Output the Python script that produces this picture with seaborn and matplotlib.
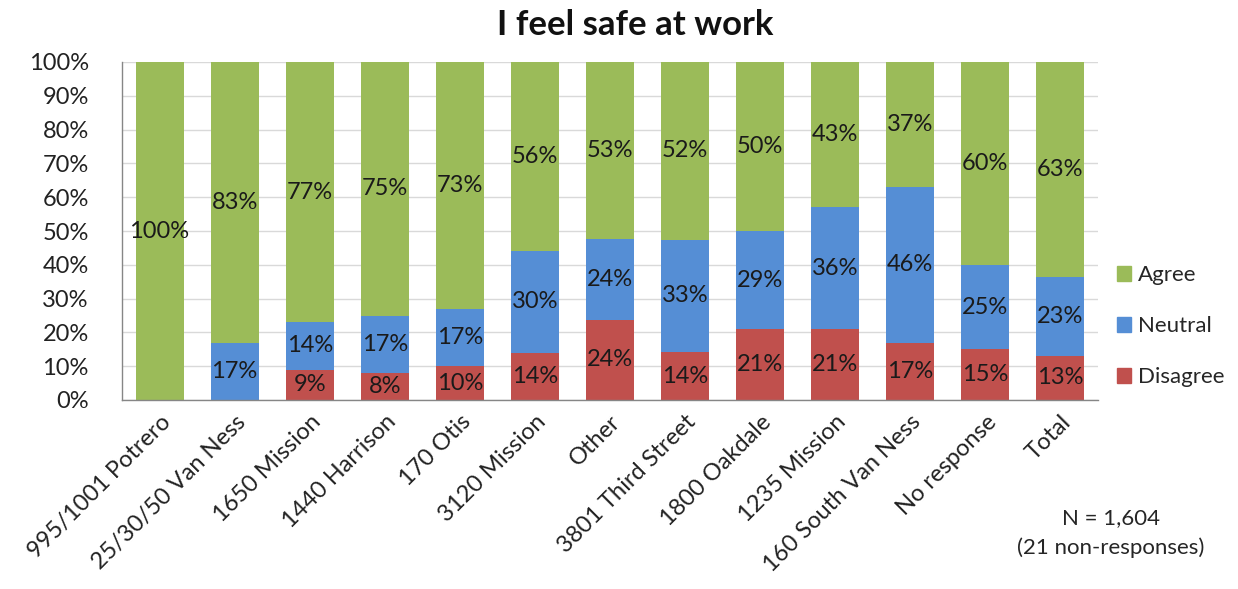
import numpy as np
import pandas as pd
import matplotlib
matplotlib.use("Agg")
import matplotlib.pyplot as plt
import seaborn as sns
from matplotlib.patches import Patch

categories = ["995/1001 Potrero", "25/30/50 Van Ness", "1650 Mission", "1440 Harrison",
              "170 Otis", "3120 Mission", "Other", "3801 Third Street", "1800 Oakdale",
              "1235 Mission", "160 South Van Ness", "No response", "Total"]
disagree = [0, 0, 9, 8, 10, 14, 24, 14, 21, 21, 17, 15, 13]
neutral = [0, 17, 14, 17, 17, 30, 24, 33, 29, 36, 46, 25, 23]
agree = [100, 83, 77, 75, 73, 56, 53, 52, 50, 43, 37, 60, 63]
yticks = [0, 10, 20, 30, 40, 50, 60, 70, 80, 90, 100]

colors = {"Disagree": "#C0504D", "Neutral": "#558ED5", "Agree": "#9BBB59"}

sns.set_theme(style="white")
plt.rcParams["font.family"] = ["Lato", "DejaVu Sans"]

df = pd.DataFrame({"cat": categories, "Disagree": disagree, "Neutral": neutral, "Agree": agree})
tot = df[["Disagree", "Neutral", "Agree"]].sum(axis=1)
for s in ["Disagree", "Neutral", "Agree"]:
    df[s + "_pct"] = df[s] / tot * 100

fig = plt.figure(figsize=(12.38, 5.89), dpi=100)
ax = fig.add_axes([122 / 1238, 1 - 400 / 589, (1098 - 122) / 1238, (400 - 62) / 589])

FS = 17
bottom = np.zeros(len(df))
for s in ["Disagree", "Neutral", "Agree"]:
    sns.barplot(data=df, x="cat", y=s + "_pct", color=colors[s], bottom=bottom,
                width=0.64, ax=ax, saturation=1, edgecolor="none", linewidth=0,
                zorder=3)
    cont = ax.containers[-1]
    labels = [f"{v}%" if v > 0 else "" for v in df[s]]
    ax.bar_label(cont, labels=labels, label_type="center", fontsize=FS, color="#1a1a1a")
    bottom = bottom + df[s + "_pct"].values

ax.set_ylim(0, 100)
ax.set_xlim(-0.5, len(categories) - 0.5)
ax.set_yticks(yticks)
ax.set_yticklabels([f"{t}%" for t in yticks], fontsize=FS, color="#222222")
ax.tick_params(axis="y", length=0, pad=24)
ax.tick_params(axis="x", length=0, pad=8)
ax.set_xticks(range(len(categories)))
ax.set_xticklabels(categories, rotation=45, ha="right", rotation_mode="anchor",
                   fontsize=FS, color="#222222")
ax.set_xlabel("")
ax.set_ylabel("")
ax.yaxis.grid(True, color="#D9D9D9", linewidth=1, zorder=0)
ax.set_axisbelow(True)
for sp in ["top", "right"]:
    ax.spines[sp].set_visible(False)
for sp in ["left", "bottom"]:
    ax.spines[sp].set_color("#868686")
    ax.spines[sp].set_linewidth(1)
    ax.spines[sp].set_zorder(4)

fig.text(635 / 1238, 1 - 25 / 589, "I feel safe at work", ha="center", va="center",
         fontsize=25, fontweight="bold", color="#111111")

handles = [Patch(color=colors[s], label=s) for s in ["Agree", "Neutral", "Disagree"]]
fig.legend(handles=handles, loc="center left", bbox_to_anchor=(1117 / 1238, 1 - 326 / 589),
           frameon=False, fontsize=16, handlelength=0.65, handleheight=0.65,
           handletextpad=0.3, labelspacing=1.4, borderpad=0, borderaxespad=0)

fig.text(1111 / 1238, 1 - 518 / 589, "N = 1,604", ha="center", va="center", fontsize=16)
fig.text(1111 / 1238, 1 - 548 / 589, "(21 non-responses)", ha="center", va="center", fontsize=16)

fig.savefig("out.png", dpi=100)
